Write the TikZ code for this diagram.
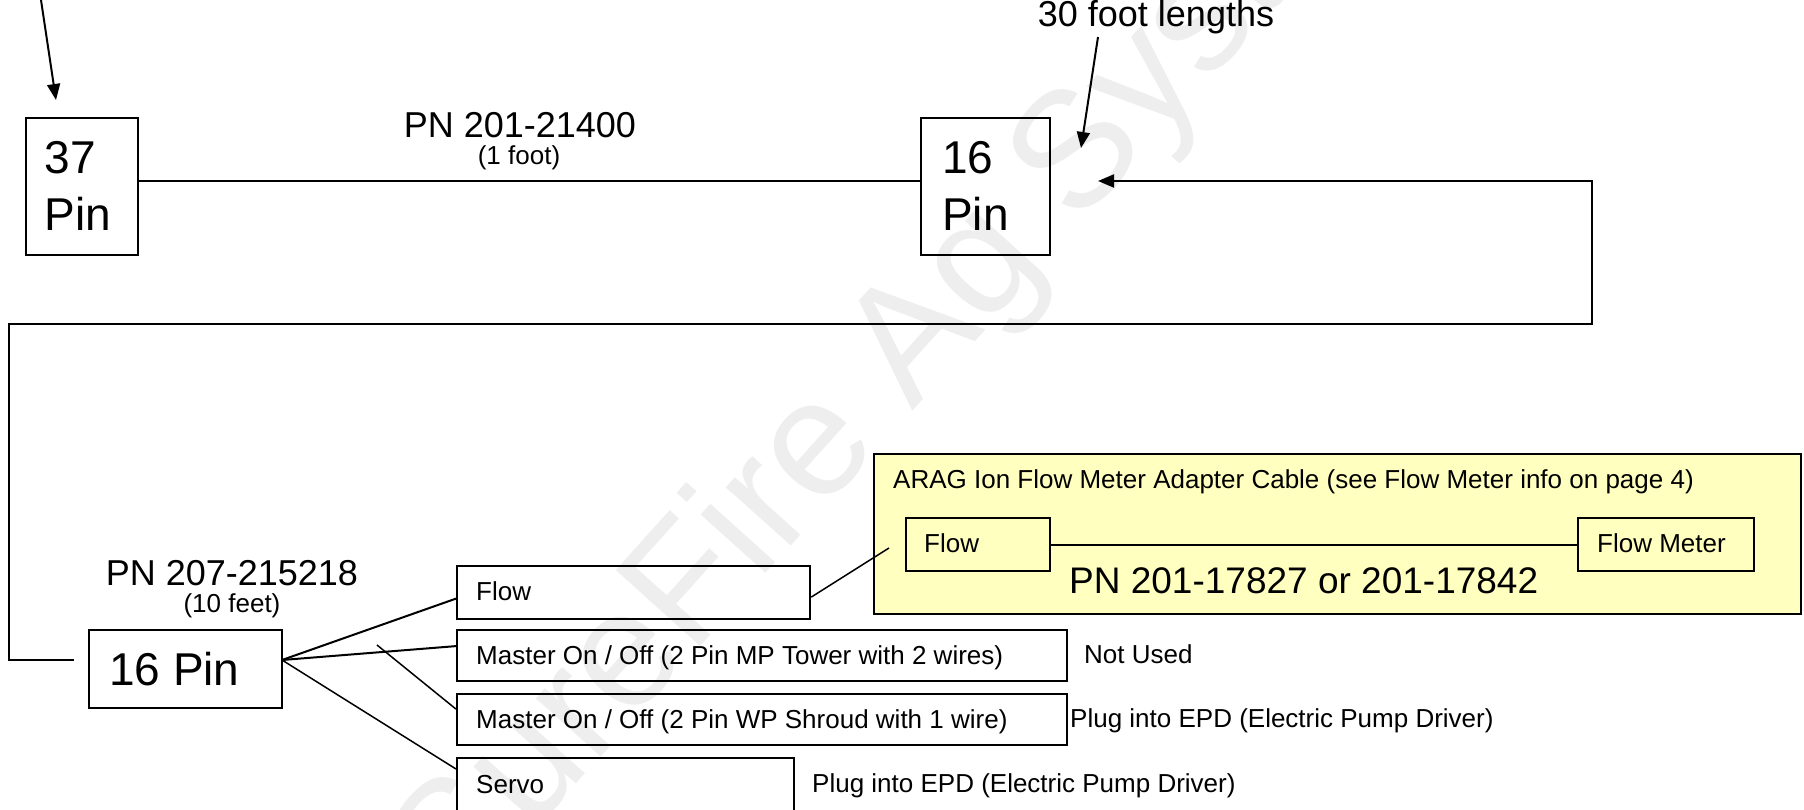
\documentclass[tikz,border=0pt]{standalone}
\usepackage{fontspec}
\setmainfont{Liberation Sans}
\usetikzlibrary{arrows.meta,calc}
\definecolor{paleyellow}{RGB}{255,255,192}
\definecolor{wmark}{RGB}{238,238,238}
\tikzset{
  box/.style={draw=black,line width=2.2pt,inner sep=0pt,anchor=north west},
  wire/.style={draw=black,line width=2pt},
  thinwire/.style={draw=black,line width=1.5pt},
  arr/.style={wire,-{Triangle[length=16pt,width=13pt]}},
  txt/.style={inner sep=0pt,anchor=base west},
  ctxt/.style={inner sep=0pt,anchor=base},
  big/.style={font=\fontsize{46}{55}\selectfont},
  pn/.style={font=\fontsize{36}{43}\selectfont},
  med/.style={font=\fontsize{26}{31}\selectfont},
}
\begin{document}
\begin{tikzpicture}[x=1pt,y=-1pt]
\useasboundingbox[fill=white] (0,0) rectangle (1804,809);
\begin{scope}
\clip (0,0) rectangle (1804,809);
\node[inner sep=0pt,text=wmark,rotate=48,font=\fontsize{165}{165}\selectfont] (wm) at (948,308) {SureFire Ag Systems};
\end{scope}
% top row
\node[box,minimum width=112.5pt,minimum height=137pt] (p37) at (24.5,117) {};
\node[txt,big] (p37a) at (44.6,173) {37};
\node[txt,big] (p37b) at (44.6,230) {Pin};
\node[box,minimum width=129pt,minimum height=137pt] (p16a) at (920,117) {};
\node[txt,big] (p16aa) at (942,173) {16};
\node[txt,big] (p16ab) at (942,230) {Pin};
\draw[wire] (p37.east |- 0,181) -- (p16a.west |- 0,181);
\node[ctxt,pn] (pn1) at (520,137) {PN 201-21400};
\node[ctxt,med] (pn1b) at (519,164) {(1 foot)};
\node[ctxt,pn] (len) at (1156,26) {30 foot lengths};
\coordinate (tl0) at (41,0);
\coordinate (tl1) at (56,100);
\draw[arr] (tl0) -- (tl1);
\coordinate (lenA) at (1098,37);
\coordinate (lenB) at (1081,148);
\draw[arr] (lenA) -- (lenB);
% long return cable
\node[box,minimum width=193pt,minimum height=78pt] (p16b) at (88,629) {};
\node[txt,big] (p16bt) at (109,685) {16 Pin};
\coordinate (c0) at (73.5,660);
\coordinate (c1) at (8.6,660);
\coordinate (c2) at (8.6,324);
\coordinate (c3) at (1592,324);
\coordinate (c4) at (1592,181);
\coordinate (c5) at (1098,181);
\draw[arr] (c0) -- (c1) -- (c2) -- (c3) -- (c4) -- (c5);
\node[ctxt,pn] (pn2) at (232,585) {PN 207-215218};
\node[ctxt,med] (pn2b) at (232,612) {(10 feet)};
% branch boxes
\node[box,minimum width=353pt,minimum height=53pt] (flow) at (456,565) {};
\node[txt,med] (flowt) at (476,600) {Flow};
\node[box,minimum width=610pt,minimum height=51pt] (m1) at (456,629) {};
\node[txt,med] (m1t) at (476,664) {Master On / Off (2 Pin MP Tower with 2 wires)};
\node[txt,med] (m1n) at (1084,663) {Not Used};
\node[box,minimum width=610pt,minimum height=51pt] (m2) at (456,693) {};
\node[txt,med] (m2t) at (476,728) {Master On / Off (2 Pin WP Shroud with 1 wire)};
\node[txt,med] (m2n) at (1070,727) {Plug into EPD (Electric Pump Driver)};
\node[box,minimum width=337pt,minimum height=70pt] (servo) at (456,757) {};
\node[txt,med] (servot) at (476,793) {Servo};
\node[txt,med] (servon) at (812,792) {Plug into EPD (Electric Pump Driver)};
\coordinate (hub) at (282,660);
\draw[wire] (hub) -- ($(flow.west)+(0,6)$);
\draw[wire] (hub) -- ($(m1.west)+(0,-9.5)$);
\draw[thinwire] (hub) -- ($(servo.north west)+(0,12)$);
\coordinate (fl0) at (377,645);
\draw[thinwire] (fl0) -- ($(m2.west)+(0,-10.5)$);
% ARAG box
\node[box,fill=paleyellow,minimum width=927pt,minimum height=160pt] (arag) at (873,453) {};
\node[txt,med] (aragt) at (893,488) {ARAG Ion Flow Meter Adapter Cable (see Flow Meter info on page 4)};
\node[box,minimum width=144pt,minimum height=53pt] (iflow) at (905,517) {};
\node[txt,med] (iflowt) at (924,552) {Flow};
\node[box,minimum width=176pt,minimum height=53pt] (imeter) at (1577,517) {};
\node[txt,med] (imetert) at (1597,552) {Flow Meter};
\draw[wire] (iflow.east) -- (imeter.west);
\node[txt,font=\fontsize{37}{44}\selectfont] (pn3) at (1069,593) {PN 201-17827 or 201-17842};
\coordinate (fe) at (889,548);
\draw[thinwire] ($(flow.east)+(0,4.5)$) -- (fe);
\end{tikzpicture}
\end{document}
